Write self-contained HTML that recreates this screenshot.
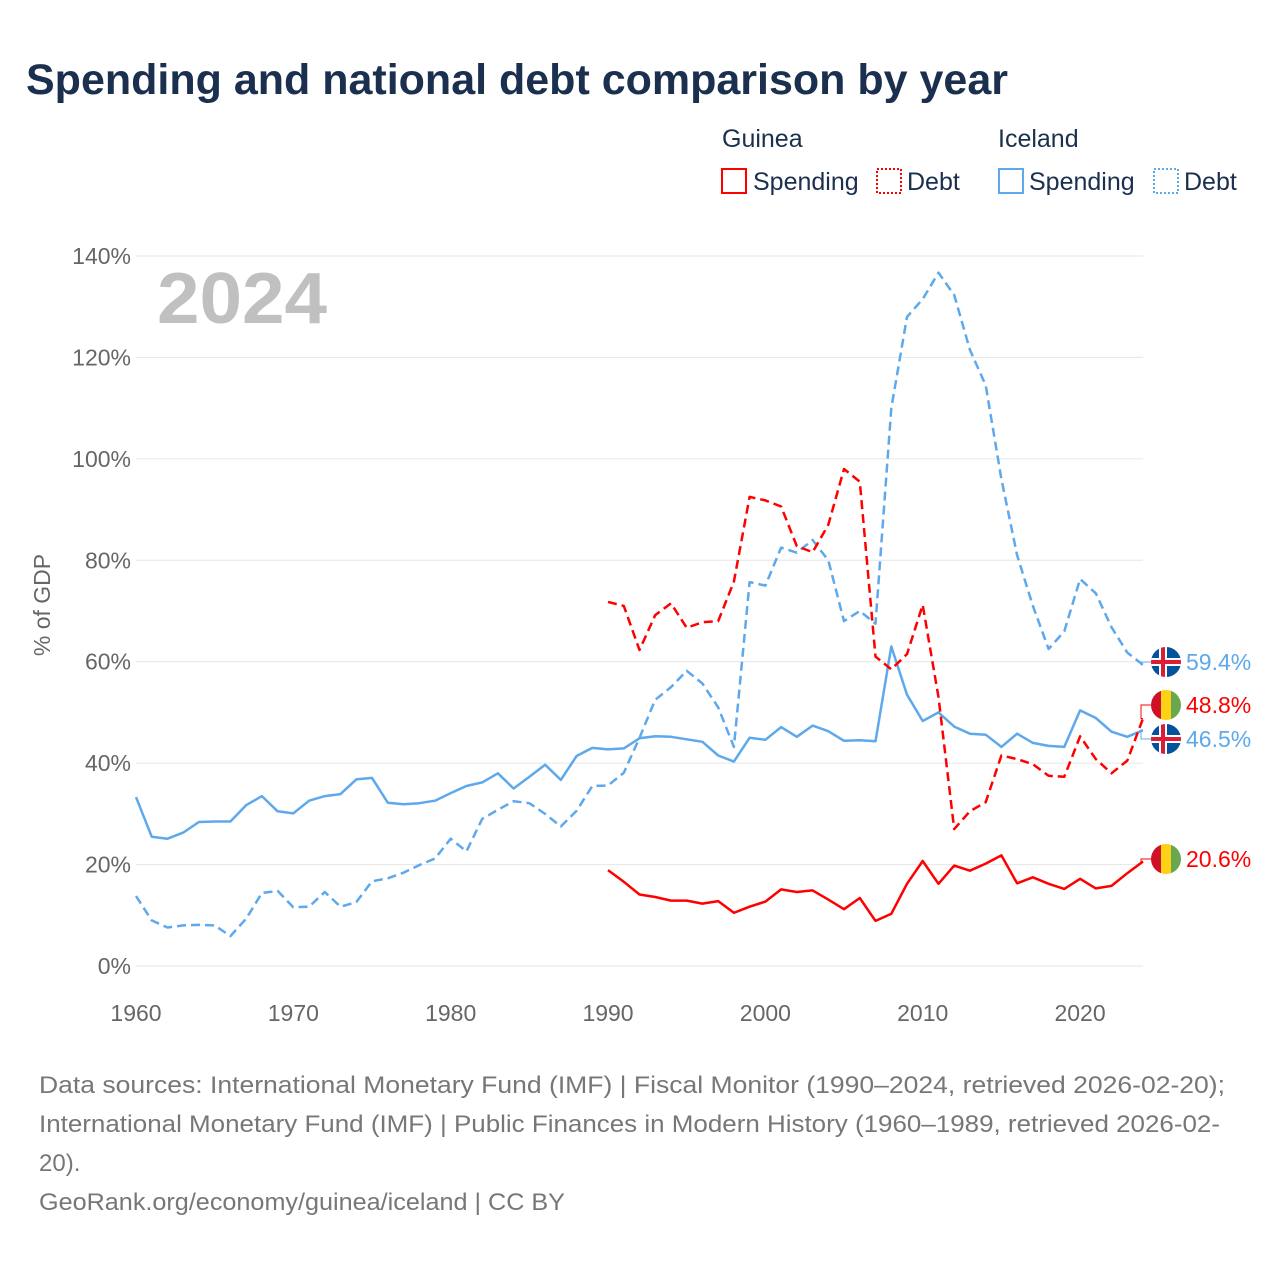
<!DOCTYPE html>
<html><head><meta charset="utf-8">
<style>
body{margin:0;background:#fff;font-family:"Liberation Sans",sans-serif;}
#wrap{position:relative;width:1280px;height:1280px;overflow:hidden;}
</style></head>
<body>
<div id="wrap">
<svg id="chart" width="1280" height="1280" xmlns="http://www.w3.org/2000/svg">
<text x="26" y="94" font-size="43" font-weight="bold" fill="#1b2f4e">Spending and national debt comparison by year</text>
<g font-size="25" fill="#1b2f4e">
<text x="722" y="147">Guinea</text>
<text x="998" y="147">Iceland</text>
<g><rect x="722" y="169" width="24" height="24" fill="none" stroke="#ff0000" stroke-width="2"/><text x="753" y="190">Spending</text></g>
<g><rect x="877" y="169" width="24" height="24" fill="none" stroke="#ff0000" stroke-width="2" stroke-dasharray="2,2"/><text x="907" y="190">Debt</text></g>
<g><rect x="999" y="169" width="24" height="24" fill="none" stroke="#5ea8ec" stroke-width="2"/><text x="1029" y="190">Spending</text></g>
<g><rect x="1154" y="169" width="24" height="24" fill="none" stroke="#5ea8ec" stroke-width="2" stroke-dasharray="2,2"/><text x="1184" y="190">Debt</text></g>
</g>
<text x="157" y="323" font-size="72" font-weight="bold" fill="#c0c0c0" textLength="170" lengthAdjust="spacingAndGlyphs">2024</text>
<text transform="translate(50,605) rotate(-90)" text-anchor="middle" font-size="23" fill="#666">% of GDP</text>
<g id="grid"></g><g id="axes"></g><g id="series"></g><g id="ends"></g>
<g font-size="24" fill="#777">
<text x="39" y="1093" textLength="1186" lengthAdjust="spacingAndGlyphs">Data sources: International Monetary Fund (IMF) | Fiscal Monitor (1990–2024, retrieved 2026-02-20);</text>
<text x="39" y="1132" textLength="1181" lengthAdjust="spacingAndGlyphs">International Monetary Fund (IMF) | Public Finances in Modern History (1960–1989, retrieved 2026-02-</text>
<text x="39" y="1171">20).</text>
<text x="39" y="1210" textLength="526" lengthAdjust="spacingAndGlyphs">GeoRank.org/economy/guinea/iceland | CC BY</text>
</g>
</svg>
</div>
<script>
const years = Array.from({length:65},(_,i)=>1960+i);
const icelandSpending = [33.3,25.5,25.1,26.3,28.4,28.5,28.5,31.7,33.5,30.5,30.1,32.6,33.5,33.9,36.8,37.1,32.2,31.9,32.1,32.6,34.1,35.5,36.2,38.0,35.0,37.3,39.7,36.7,41.4,43.0,42.7,42.9,44.9,45.3,45.2,44.7,44.2,41.5,40.3,45.0,44.6,47.1,45.2,47.4,46.3,44.4,44.5,44.3,63.0,53.5,48.3,50.0,47.2,45.8,45.6,43.2,45.8,44.0,43.4,43.2,50.4,48.9,46.2,45.2,46.5];
const icelandDebt = [13.8,9.0,7.6,8.0,8.1,8.0,5.9,9.3,14.4,14.8,11.6,11.7,14.6,11.7,12.6,16.7,17.3,18.4,19.9,21.2,25.1,22.6,29.0,30.8,32.5,32.1,30.0,27.5,30.6,35.5,35.6,38.1,45.0,52.5,55.0,58.2,55.7,51.0,43.2,75.7,75.0,82.5,81.5,84.0,80.0,68.0,70.0,67.5,110,128,131.5,136.7,132.3,121.5,114.5,96,81,71,62.5,66,76.3,73.5,66.8,61.8,59.4];
const guineaYears = Array.from({length:35},(_,i)=>1990+i);
const guineaDebt = [71.8,71.0,62.3,69.2,71.5,66.7,67.8,68.0,75.8,92.5,91.8,90.6,82.8,81.6,87.0,98.0,95.5,61.0,58.5,61.5,71.2,53.0,27.0,30.5,32.3,41.5,40.8,39.8,37.5,37.3,45.3,40.8,38.0,40.5,48.8];
const guineaSpending = [18.9,16.6,14.1,13.6,12.9,12.9,12.3,12.8,10.5,11.7,12.7,15.1,14.6,14.9,13.1,11.2,13.4,8.9,10.3,16.2,20.7,16.2,19.8,18.8,20.2,21.8,16.3,17.5,16.2,15.2,17.2,15.3,15.8,18.3,20.6];
const yTicks = [0,20,40,60,80,100,120,140];
const xTicks = [1960,1970,1980,1990,2000,2010,2020];

const NS='http://www.w3.org/2000/svg';
const x = yr => 136 + (yr-1960)*(1143-136)/64;
const y = v => 966 - v*(966-256)/140;
function mk(tag,attrs,parent){const e=document.createElementNS(NS,tag);for(const k in attrs)e.setAttribute(k,attrs[k]);parent.appendChild(e);return e;}
const grid=document.getElementById('grid'), axes=document.getElementById('axes'), series=document.getElementById('series'), ends=document.getElementById('ends');
yTicks.forEach(t=>{
  const l=mk('line',{x1:136,x2:1143,y1:y(t),y2:y(t),stroke:'#e6e6e6','stroke-width':1},grid);
  
  
  const tx=mk('text',{x:131,y:y(t)+8,'text-anchor':'end','font-size':23,fill:'#666'},axes);
  tx.textContent=t+'%';
  
  
});
xTicks.forEach(t=>{
  const tx=mk('text',{x:x(t),y:1021,'text-anchor':'middle','font-size':23,fill:'#666'},axes);
  tx.textContent=t;
  
  
});
function line(xs,vs,color,dash,name){
  const p=mk('path',{d:vs.map((v,i)=>(i?'L':'M')+x(xs[i]).toFixed(1)+','+y(v).toFixed(1)).join(''),fill:'none',stroke:color,'stroke-width':2.5,'stroke-dasharray':dash,'stroke-linejoin':'round'},series);
  
  
}
line(years,icelandDebt,'#5ea8ec','9,5','line-iceland-debt');
line(years,icelandSpending,'#5ea8ec','none','line-iceland-spending');
line(guineaYears,guineaDebt,'#ff0000','9,5','line-guinea-debt');
line(guineaYears,guineaSpending,'#ff0000','none','line-guinea-spending');

function flag(cx,cy,country,parent){
  const g=mk('g',{},parent);
  const id='c'+Math.round(cy);
  const cp=mk('clipPath',{id:id},g); mk('circle',{cx:cx,cy:cy,r:15},cp);
  const inner=mk('g',{'clip-path':'url(#'+id+')'},g);
  if(country==='guinea'){
    mk('rect',{x:cx-15,y:cy-15,width:10,height:30,fill:'#ce1126'},inner);
    mk('rect',{x:cx-5,y:cy-15,width:10,height:30,fill:'#fcd116'},inner);
    mk('rect',{x:cx+5,y:cy-15,width:10,height:30,fill:'#6aa84f'},inner);
  } else {
    mk('rect',{x:cx-15,y:cy-15,width:30,height:30,fill:'#02529c'},inner);
    mk('rect',{x:cx-7,y:cy-15,width:8,height:30,fill:'#fff'},inner);
    mk('rect',{x:cx-15,y:cy-4,width:30,height:8,fill:'#fff'},inner);
    mk('rect',{x:cx-5,y:cy-15,width:4,height:30,fill:'#dc1e35'},inner);
    mk('rect',{x:cx-15,y:cy-2,width:30,height:4,fill:'#dc1e35'},inner);
  }
  return g;
}
const endVals=[icelandDebt[64],guineaDebt[34],icelandSpending[64],guineaSpending[34]];
const endLabelY=[662,705,739,859];
const endCountry=['iceland','guinea','iceland','guinea'];
const endNames=['end-label-iceland-debt','end-label-guinea-debt','end-label-iceland-spending','end-label-guinea-spending'];
endVals.forEach((v,i)=>{
  const col=endCountry[i]==='guinea'?'#ff0000':'#5ea8ec';
  const g=mk('g',{},ends);
  
  
  mk('path',{d:'M'+x(2024)+','+y(v)+'H1141V'+endLabelY[i]+'H1151',fill:'none',stroke:col,'stroke-width':1},g);
  flag(1166,endLabelY[i],endCountry[i],g);
  const t=mk('text',{x:1186,y:endLabelY[i]+8,'font-size':23,fill:col},g);
  t.textContent=v.toFixed(1)+'%';
});
</script>
</body></html>
